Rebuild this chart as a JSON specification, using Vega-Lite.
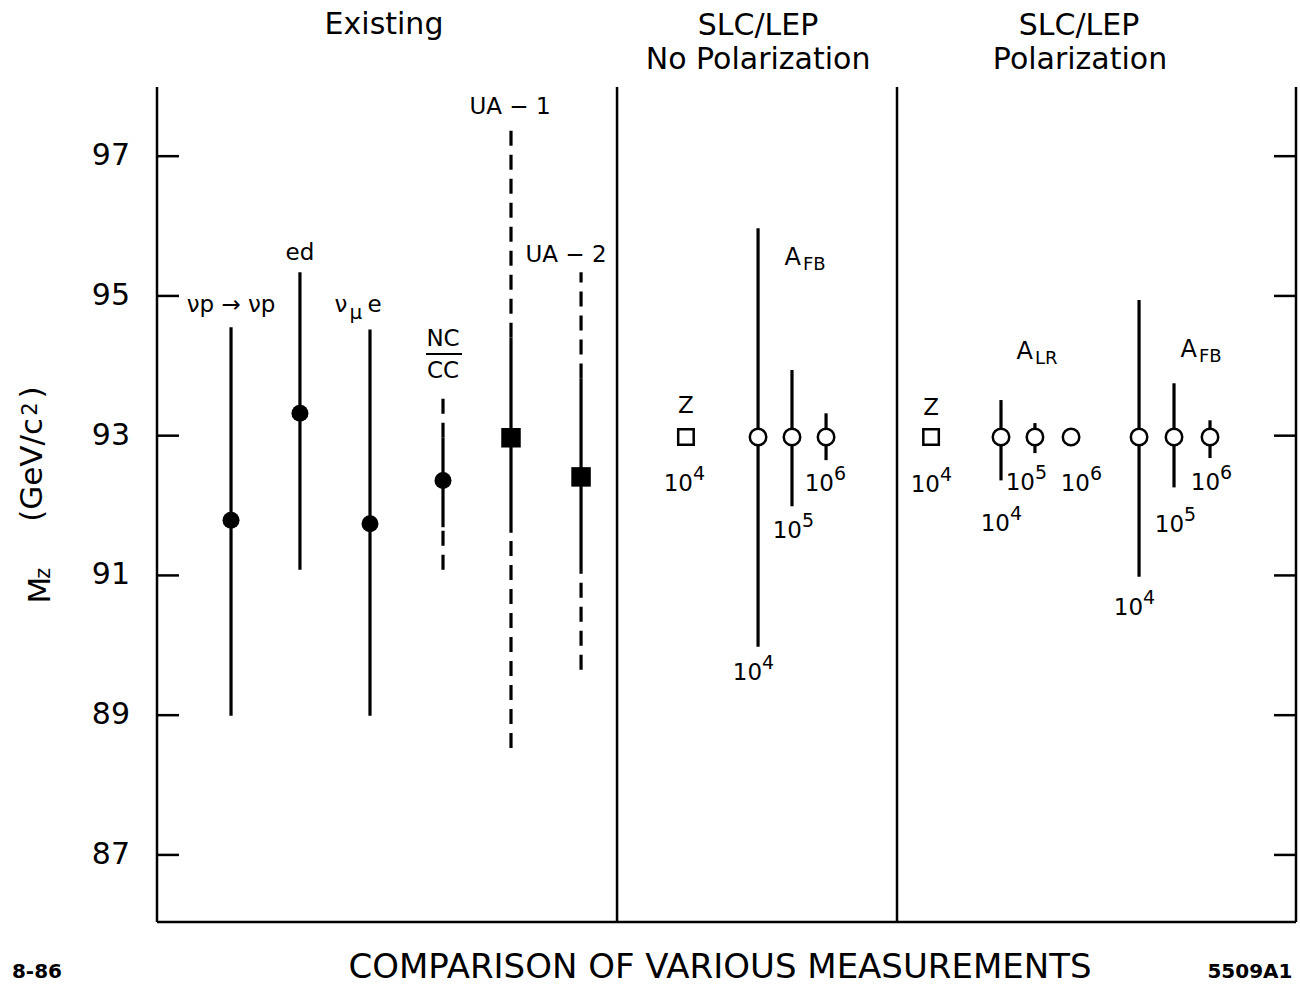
{
  "$schema": "https://vega.github.io/schema/vega-lite/v6.json",
  "width": 1139,
  "height": 835,
  "autosize": {"type": "none"},
  "padding": {"left": 157, "top": 87, "right": 4, "bottom": 67},
  "background": "white",
  "config": {"view": {"stroke": null}, "font": "DejaVu Sans"},
  "datasets": {
    "dividers": [{"x": 40.39}, {"x": 64.97}],
    "ticks": [{"v": 87}, {"v": 89}, {"v": 91}, {"v": 93}, {"v": 95}, {"v": 97}],
    "solid": [
      {"x": 6.50, "lo": 88.99, "hi": 94.55},
      {"x": 12.55, "lo": 91.08, "hi": 95.34},
      {"x": 18.70, "lo": 88.99, "hi": 94.52},
      {"x": 25.11, "lo": 91.69, "hi": 92.97},
      {"x": 31.08, "lo": 91.61, "hi": 94.40},
      {"x": 37.23, "lo": 91.05, "hi": 93.82},
      {"x": 52.77, "lo": 89.98, "hi": 95.97},
      {"x": 55.75, "lo": 91.99, "hi": 93.94},
      {"x": 58.74, "lo": 92.65, "hi": 93.32},
      {"x": 74.10, "lo": 92.36, "hi": 93.51},
      {"x": 77.08, "lo": 92.75, "hi": 93.18},
      {"x": 86.22, "lo": 90.98, "hi": 94.94},
      {"x": 89.29, "lo": 92.26, "hi": 93.75},
      {"x": 92.45, "lo": 92.68, "hi": 93.22}
    ],
    "dashed": [
      {"x": 25.11, "lo": 92.97, "hi": 93.62},
      {"x": 25.11, "lo": 91.08, "hi": 91.69},
      {"x": 31.08, "lo": 94.40, "hi": 97.49},
      {"x": 31.08, "lo": 88.53, "hi": 91.61},
      {"x": 37.23, "lo": 93.82, "hi": 95.34},
      {"x": 37.23, "lo": 89.65, "hi": 91.05}
    ],
    "pts": [
      {"x": 6.50, "v": 91.79, "kind": "filled circle"},
      {"x": 12.55, "v": 93.32, "kind": "filled circle"},
      {"x": 18.70, "v": 91.74, "kind": "filled circle"},
      {"x": 25.11, "v": 92.36, "kind": "filled circle"},
      {"x": 31.08, "v": 92.97, "kind": "filled square"},
      {"x": 37.23, "v": 92.41, "kind": "filled square"},
      {"x": 46.44, "v": 92.98, "kind": "open square"},
      {"x": 67.96, "v": 92.98, "kind": "open square"},
      {"x": 52.77, "v": 92.98, "kind": "open circle"},
      {"x": 55.75, "v": 92.98, "kind": "open circle"},
      {"x": 58.74, "v": 92.98, "kind": "open circle"},
      {"x": 74.10, "v": 92.98, "kind": "open circle"},
      {"x": 77.08, "v": 92.98, "kind": "open circle"},
      {"x": 80.25, "v": 92.98, "kind": "open circle"},
      {"x": 86.22, "v": 92.98, "kind": "open circle"},
      {"x": 89.29, "v": 92.98, "kind": "open circle"},
      {"x": 92.45, "v": 92.98, "kind": "open circle"}
    ],
    "labels": [
      {"x": 6.50, "v": 94.87, "t": "νp → νp"},
      {"x": 12.55, "v": 95.61, "t": "ed"},
      {"x": 16.15, "v": 94.87, "t": "ν"},
      {"x": 19.10, "v": 94.87, "t": "e"},
      {"x": 25.11, "v": 94.38, "t": "NC"},
      {"x": 25.11, "v": 93.92, "t": "CC"},
      {"x": 30.99, "v": 97.70, "t": "UA − 1"},
      {"x": 35.91, "v": 95.58, "t": "UA − 2"},
      {"x": 46.44, "v": 93.42, "t": "Z"},
      {"x": 67.96, "v": 93.39, "t": "Z"}
    ],
    "smalls": [
      {"x": 17.45, "v": 94.76, "t": "μ"}
    ],
    "asym": [
      {"x": 56.54, "v": 95.54, "sub": "FB"},
      {"x": 76.91, "v": 94.20, "sub": "LR"},
      {"x": 91.31, "v": 94.22, "sub": "FB"}
    ],
    "powers": [
      {"x": 47.06, "v": 92.31, "sup": "4"},
      {"x": 53.12, "v": 89.60, "sup": "4"},
      {"x": 56.63, "v": 91.64, "sup": "5"},
      {"x": 59.44, "v": 92.31, "sup": "6"},
      {"x": 68.74, "v": 92.29, "sup": "4"},
      {"x": 74.89, "v": 91.74, "sup": "4"},
      {"x": 77.08, "v": 92.32, "sup": "5"},
      {"x": 81.91, "v": 92.31, "sup": "6"},
      {"x": 86.57, "v": 90.53, "sup": "4"},
      {"x": 90.17, "v": 91.72, "sup": "5"},
      {"x": 93.33, "v": 92.32, "sup": "6"}
    ],
    "headers": [
      {"x": 19.93, "v": 98.88, "t": "Existing"},
      {"x": 52.77, "v": 98.87, "t": "SLC/LEP"},
      {"x": 52.77, "v": 98.37, "t": "No Polarization"},
      {"x": 80.95, "v": 98.87, "t": "SLC/LEP"},
      {"x": 81.04, "v": 98.37, "t": "Polarization"}
    ],
    "ytitle": [
      {"x": -10.18, "v": 90.79, "t": "M"},
      {"x": -10.89, "v": 92.51, "t": "(GeV/c"},
      {"x": -10.89, "v": 93.62, "t": ")"}
    ],
    "ytitleSmall": [
      {"x": -9.92, "v": 91.03, "t": "z"},
      {"x": -11.02, "v": 93.38, "t": "2"}
    ],
    "footer": [
      {"x": 49.43, "v": 85.38, "t": "COMPARISON OF VARIOUS MEASUREMENTS"}
    ],
    "codes": [
      {"x": -10.54, "v": 85.33, "t": "8-86"},
      {"x": 95.96, "v": 85.33, "t": "5509A1"}
    ]
  },
  "layer": [
    {
      "data": {"name": "dividers"},
      "mark": {"type": "rule", "stroke": "black", "strokeWidth": 2.5},
      "encoding": {
        "x": {"field": "x", "type": "quantitative",
              "scale": {"domain": [0, 100], "nice": false, "zero": false},
              "axis": null}
      }
    },
    {
      "data": {"values": [{"k": 1}]},
      "mark": {"type": "rule", "stroke": "black", "strokeWidth": 2.5},
      "encoding": {
        "x": {"datum": 0, "type": "quantitative", "axis": null}
      }
    },
    {
      "data": {"values": [{"k": 1}]},
      "mark": {"type": "rule", "stroke": "black", "strokeWidth": 2.5},
      "encoding": {
        "x": {"datum": 100, "type": "quantitative", "axis": null}
      }
    },
    {
      "data": {"values": [{"k": 1}]},
      "mark": {"type": "rule", "stroke": "black", "strokeWidth": 2.5},
      "encoding": {
        "y": {"datum": 86.04, "type": "quantitative", "axis": null}
      }
    },
    {
      "data": {"name": "ticks"},
      "mark": {"type": "rule", "stroke": "black", "strokeWidth": 2.5},
      "encoding": {
        "x": {"datum": 0, "type": "quantitative", "axis": null},
        "x2": {"datum": 1.93},
        "y": {"field": "v", "type": "quantitative", "axis": null}
      }
    },
    {
      "data": {"name": "ticks"},
      "mark": {"type": "rule", "stroke": "black", "strokeWidth": 2.5},
      "encoding": {
        "x": {"datum": 98.07, "type": "quantitative", "axis": null},
        "x2": {"datum": 100},
        "y": {"field": "v", "type": "quantitative", "axis": null}
      }
    },
    {
      "data": {"name": "ticks"},
      "mark": {"type": "text", "font": "DejaVu Sans", "fontSize": 30, "align": "right", "baseline": "middle", "dx": -27, "fill": "black"},
      "encoding": {
        "x": {"datum": 0, "type": "quantitative", "axis": null},
        "y": {"field": "v", "type": "quantitative", "axis": null},
        "text": {"field": "v", "type": "quantitative"}
      }
    },
    {
      "data": {"name": "solid"},
      "mark": {"type": "rule", "stroke": "black", "strokeWidth": 3.2},
      "encoding": {
        "x": {"field": "x", "type": "quantitative", "axis": null},
        "y": {"field": "lo", "type": "quantitative",
              "scale": {"domain": [86.04, 97.99], "nice": false, "zero": false},
              "axis": null},
        "y2": {"field": "hi"}
      }
    },
    {
      "data": {"name": "dashed"},
      "mark": {"type": "rule", "stroke": "black", "strokeWidth": 3.2, "strokeDash": [15, 9]},
      "encoding": {
        "x": {"field": "x", "type": "quantitative", "axis": null},
        "y": {"field": "lo", "type": "quantitative", "axis": null},
        "y2": {"field": "hi"}
      }
    },
    {
      "data": {"name": "pts"},
      "transform": [{"filter": "datum.kind === 'filled circle'"}],
      "mark": {"type": "point", "shape": "circle", "filled": true, "fill": "black", "size": 289, "opacity": 1},
      "encoding": {
        "x": {"field": "x", "type": "quantitative", "axis": null},
        "y": {"field": "v", "type": "quantitative", "axis": null}
      }
    },
    {
      "data": {"name": "pts"},
      "transform": [{"filter": "datum.kind === 'filled square'"}],
      "mark": {"type": "point", "shape": "square", "filled": true, "fill": "black", "size": 380, "opacity": 1},
      "encoding": {
        "x": {"field": "x", "type": "quantitative", "axis": null},
        "y": {"field": "v", "type": "quantitative", "axis": null}
      }
    },
    {
      "data": {"name": "pts"},
      "transform": [{"filter": "datum.kind === 'open circle'"}],
      "mark": {"type": "point", "shape": "circle", "filled": true, "fill": "white", "stroke": "black", "strokeWidth": 2.5, "size": 272, "opacity": 1},
      "encoding": {
        "x": {"field": "x", "type": "quantitative", "axis": null},
        "y": {"field": "v", "type": "quantitative", "axis": null}
      }
    },
    {
      "data": {"name": "pts"},
      "transform": [{"filter": "datum.kind === 'open square'"}],
      "mark": {"type": "point", "shape": "square", "filled": true, "fill": "white", "stroke": "black", "strokeWidth": 2.5, "size": 240, "opacity": 1},
      "encoding": {
        "x": {"field": "x", "type": "quantitative", "axis": null},
        "y": {"field": "v", "type": "quantitative", "axis": null}
      }
    },
    {
      "data": {"values": [{"k": 1}]},
      "mark": {"type": "rule", "stroke": "black", "strokeWidth": 2},
      "encoding": {
        "x": {"datum": 23.62, "type": "quantitative", "axis": null},
        "x2": {"datum": 26.78},
        "y": {"datum": 94.17, "type": "quantitative", "axis": null}
      }
    },
    {
      "data": {"name": "labels"},
      "mark": {"type": "text", "font": "DejaVu Sans", "fontSize": 23, "align": "center", "baseline": "middle", "fill": "black"},
      "encoding": {
        "x": {"field": "x", "type": "quantitative", "axis": null},
        "y": {"field": "v", "type": "quantitative", "axis": null},
        "text": {"field": "t"}
      }
    },
    {
      "data": {"name": "smalls"},
      "mark": {"type": "text", "font": "DejaVu Sans", "fontSize": 20, "align": "center", "baseline": "middle", "fill": "black"},
      "encoding": {
        "x": {"field": "x", "type": "quantitative", "axis": null},
        "y": {"field": "v", "type": "quantitative", "axis": null},
        "text": {"field": "t"}
      }
    },
    {
      "data": {"name": "asym"},
      "mark": {"type": "text", "font": "DejaVu Sans", "fontSize": 24, "align": "right", "baseline": "middle", "fill": "black"},
      "encoding": {
        "x": {"field": "x", "type": "quantitative", "axis": null},
        "y": {"field": "v", "type": "quantitative", "axis": null},
        "text": {"value": "A"}
      }
    },
    {
      "data": {"name": "asym"},
      "mark": {"type": "text", "font": "DejaVu Sans", "fontSize": 18, "align": "left", "baseline": "middle", "dx": 2, "dy": 7, "fill": "black"},
      "encoding": {
        "x": {"field": "x", "type": "quantitative", "axis": null},
        "y": {"field": "v", "type": "quantitative", "axis": null},
        "text": {"field": "sub"}
      }
    },
    {
      "data": {"name": "powers"},
      "mark": {"type": "text", "font": "DejaVu Sans", "fontSize": 23, "align": "right", "baseline": "middle", "fill": "black"},
      "encoding": {
        "x": {"field": "x", "type": "quantitative", "axis": null},
        "y": {"field": "v", "type": "quantitative", "axis": null},
        "text": {"value": "10"}
      }
    },
    {
      "data": {"name": "powers"},
      "mark": {"type": "text", "font": "DejaVu Sans", "fontSize": 19, "align": "left", "baseline": "middle", "dx": 0, "dy": -10, "fill": "black"},
      "encoding": {
        "x": {"field": "x", "type": "quantitative", "axis": null},
        "y": {"field": "v", "type": "quantitative", "axis": null},
        "text": {"field": "sup"}
      }
    },
    {
      "data": {"name": "headers"},
      "mark": {"type": "text", "font": "DejaVu Sans", "fontSize": 30, "align": "center", "baseline": "middle", "fill": "black"},
      "encoding": {
        "x": {"field": "x", "type": "quantitative", "axis": null},
        "y": {"field": "v", "type": "quantitative", "axis": null},
        "text": {"field": "t"}
      }
    },
    {
      "data": {"name": "ytitle"},
      "mark": {"type": "text", "font": "DejaVu Sans", "fontSize": 31, "align": "center", "baseline": "middle", "angle": 270, "fill": "black"},
      "encoding": {
        "x": {"field": "x", "type": "quantitative", "axis": null},
        "y": {"field": "v", "type": "quantitative", "axis": null},
        "text": {"field": "t"}
      }
    },
    {
      "data": {"name": "ytitleSmall"},
      "mark": {"type": "text", "font": "DejaVu Sans", "fontSize": 21, "align": "center", "baseline": "middle", "angle": 270, "fill": "black"},
      "encoding": {
        "x": {"field": "x", "type": "quantitative", "axis": null},
        "y": {"field": "v", "type": "quantitative", "axis": null},
        "text": {"field": "t"}
      }
    },
    {
      "data": {"name": "footer"},
      "mark": {"type": "text", "font": "DejaVu Sans", "fontSize": 34, "align": "center", "baseline": "middle", "fill": "black"},
      "encoding": {
        "x": {"field": "x", "type": "quantitative", "axis": null},
        "y": {"field": "v", "type": "quantitative", "axis": null},
        "text": {"field": "t"}
      }
    },
    {
      "data": {"name": "codes"},
      "mark": {"type": "text", "font": "DejaVu Sans", "fontSize": 20, "fontWeight": "bold", "align": "center", "baseline": "middle", "fill": "black"},
      "encoding": {
        "x": {"field": "x", "type": "quantitative", "axis": null},
        "y": {"field": "v", "type": "quantitative", "axis": null},
        "text": {"field": "t"}
      }
    }
  ]
}
